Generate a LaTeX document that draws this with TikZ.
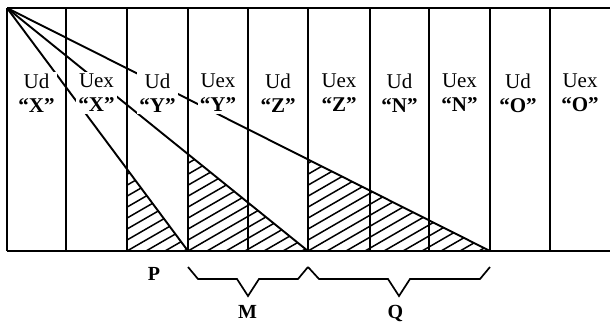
\documentclass[tikz,border=0pt]{standalone}
\usepackage{fontspec}
\setmainfont{Liberation Serif}
\usetikzlibrary{calc}

\begin{document}
\begin{tikzpicture}[x=1pt,y=-1pt,
   frame/.style={line width=2pt},
   ray/.style={line width=1.9pt},
   hatch/.style={line width=1.5pt},
   brace/.style={line width=1.7pt,line join=miter},
   lab/.style={fill=white,inner sep=2pt,align=center,font=\fontsize{21}{24}\selectfont},
   tag/.style={anchor=base,inner sep=0pt,font=\fontsize{20}{24}\selectfont\bfseries}]
  \useasboundingbox (0,0) rectangle (610,322);
  % column edges
  \foreach \x [count=\i] in {7,66,127,188,248,308,370,429,490,550} {
    \coordinate (t\i) at (\x,8);
    \coordinate (b\i) at (\x,251);
  }
  \coordinate (apex) at (t1);
  % rays from the corner
  \draw[ray] (apex) -- (b4);
  \draw[ray] (apex) -- (b6);
  \draw[ray] (apex) -- (b9);
  \coordinate (tA) at (intersection of apex--b4 and t3--b3);
  \coordinate (tB) at (intersection of apex--b6 and t4--b4);
  \coordinate (tC) at (intersection of apex--b9 and t6--b6);
  % hatching under the rays
  \foreach \tp/\bl/\br in {tA/b3/b4, tB/b4/b6, tC/b6/b9} {
    \begin{scope}
      \clip (\tp) -- (\br) -- (\bl) -- cycle;
      \foreach \s in {0,19,...,380}
        \draw[hatch] ($(\bl)+(\s-190,0)$) -- ++(300,-173.2);
    \end{scope}
  }
  % column labels
  \foreach \cx/\a/\b [count=\i] in {36.5/Ud/X,96.5/Uex/X,157.5/Ud/Y,218/Uex/Y,278/Ud/Z,
                                   339/Uex/Z,399.5/Ud/N,459.5/Uex/N,518/Ud/O,580/Uex/O}
    \node[lab] (l\i) at (\cx,93) {\a\\\textbf{“\b”}};
  % frame
  \foreach \i in {1,...,10}
    \draw[frame] (t\i) -- (b\i);
  \draw[frame] (t1) -- (610,8);
  \draw[frame] (b1) -- (610,251);
  % braces
  \draw[brace] ($(b4)+(0,16)$) -- ++(10,12) -- ++(39,0) -- ++(11,17) -- ++(11,-17) -- ++(39,0) -- ($(b6)+(0,16)$);
  \draw[brace] ($(b6)+(0,16)$) -- ++(11,12) -- ++(69,0) -- ++(11,17) -- ++(11,-17) -- ++(70,0) -- ($(b9)+(0,16)$);
  \node[tag] (P) at (154,280) {P};
  \node[tag] (M) at (247.5,318) {M};
  \node[tag] (Q) at (395.5,318) {Q};
\end{tikzpicture}
\end{document}
